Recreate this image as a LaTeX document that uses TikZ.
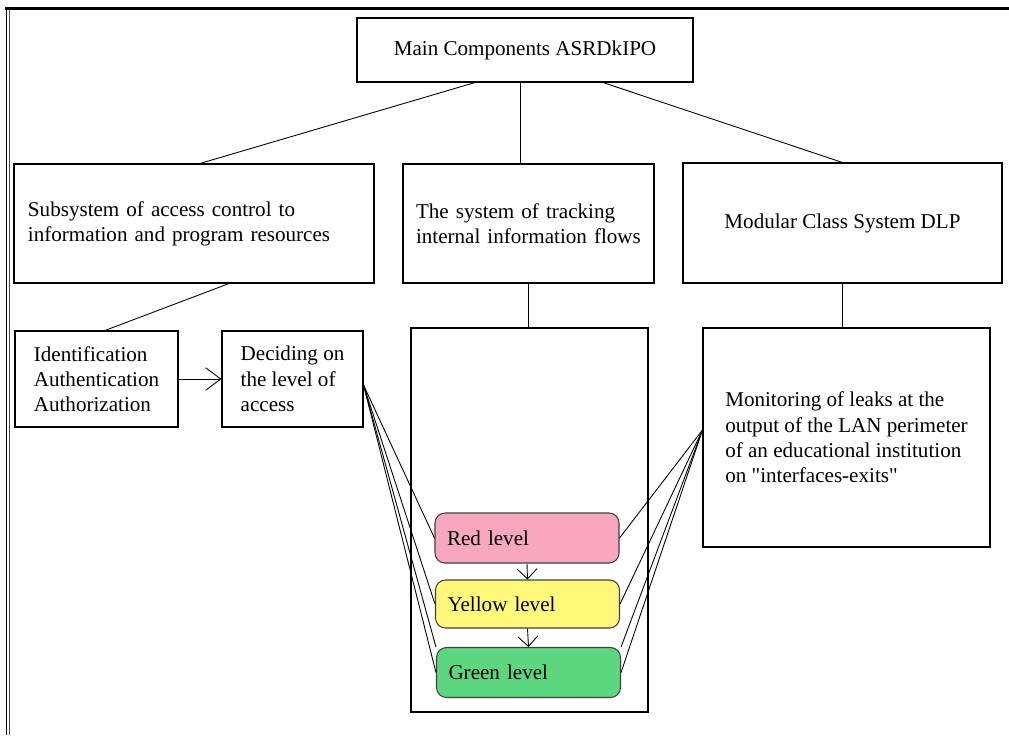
\documentclass[tikz,border=0pt]{standalone}
\usepackage{fontspec}
\setmainfont{Liberation Serif}
\newfontfamily\rawserif{Liberation Serif}
\usetikzlibrary{arrows.meta,positioning}
\definecolor{redlvl}{HTML}{F8A8BE}
\definecolor{yellowlvl}{HTML}{FFF87A}
\definecolor{greenlvl}{HTML}{5DD67F}

\begin{document}
\begin{tikzpicture}[
 x=0.2mm,y=-0.2mm,
 font=\fontsize{12}{14.4}\selectfont,
 box/.style={draw,line width=0.6pt,align=left,inner sep=0pt},
 lvl/.style={draw=black!75,rounded corners=2mm,line width=0.6pt,align=left,text width=3.2cm,minimum width=3.68cm,minimum height=1cm,inner sep=0pt},
 link/.style={line width=0.5pt},
 arrow/.style={-{Straight Barb[length=2mm,width=4mm]},line width=0.5pt}
]
\useasboundingbox (0,0) rectangle (1009,735);
% frame
\draw[line width=0.7mm] (5,8.5) -- (1009,8.5);
\draw[line width=0.4pt] (6,8) -- (6,735);
\draw[line width=0.4pt,black!70] (9.5,10) -- (9.5,735);

\node[box,minimum width=6.72cm,minimum height=1.28cm,align=center] (main) at (525,50) {Main Components ASRDkIPO};
\node[box,minimum width=7.2cm,minimum height=2.38cm,text width=6.64cm] (access) at (194,223.5) {Subsystem of access control to\\information and program resources};
\node[box,minimum width=5.02cm,minimum height=2.38cm,text width=4.5cm] (tracking) at (528.5,223.5) {The system of tracking\\internal information flows};
\node[box,minimum width=6.38cm,minimum height=2.4cm,align=center] (dlp) at (842.5,223) {Modular Class System DLP};
\node[box,minimum width=3.26cm,minimum height=1.92cm] (ident) at (96.5,379) {Identification\\Authentication\\Authorization};
\node[box,minimum width=2.82cm,minimum height=1.92cm] (decide) at (292.5,379) {Deciding on\\the level of\\access};
\node[box,minimum width=4.74cm,minimum height=7.68cm] (levels) at (529.5,520) {};
\node[box,minimum width=5.74cm,minimum height=4.38cm] (leaks) at (846.5,437.5) {Monitoring of leaks at the\\output of the LAN perimeter\\of an educational institution\\on {\rawserif"interfaces-exits"}};

\node[lvl,fill=redlvl] (red) at (527,538) {Red level};
\node[lvl,fill=yellowlvl,minimum height=9.6mm] (yellow) at (527.5,604) {Yellow level};
\node[lvl,fill=greenlvl] (green) at (528.5,672.5) {Green level};

% tree links
\draw[link] ([xshift=-1cm]main.south) -- ([xshift=1.2mm]access.north);
\draw[link] ([xshift=-1mm]main.south) -- ([xshift=-1mm]main.south |- tracking.north);
\draw[link] ([xshift=1.56cm]main.south) -- (dlp.north);
\draw[link] ([xshift=7mm]access.south) -- ([xshift=1.7mm]ident.north);
\draw[link] (tracking.south) -- (tracking.south |- levels.north);
\draw[link] (dlp.south) -- (dlp.south |- leaks.north);
\draw[arrow,-{Straight Barb[length=3mm,width=4.5mm]}] (ident.east) -- (decide.west);
\draw[arrow] (red.south) -- (yellow.north);
\draw[arrow] (yellow.south) -- (green.north);
% fan lines to the levels
\foreach \t in {red.west,yellow.west,green.north west,green.west}
  \draw[link] ([yshift=-1.2mm]decide.east) -- (\t);
\foreach \t in {red.east,yellow.east,green.north east,green.east}
  \draw[link] ([yshift=1.5mm]leaks.west) -- (\t);
\end{tikzpicture}
\end{document}
